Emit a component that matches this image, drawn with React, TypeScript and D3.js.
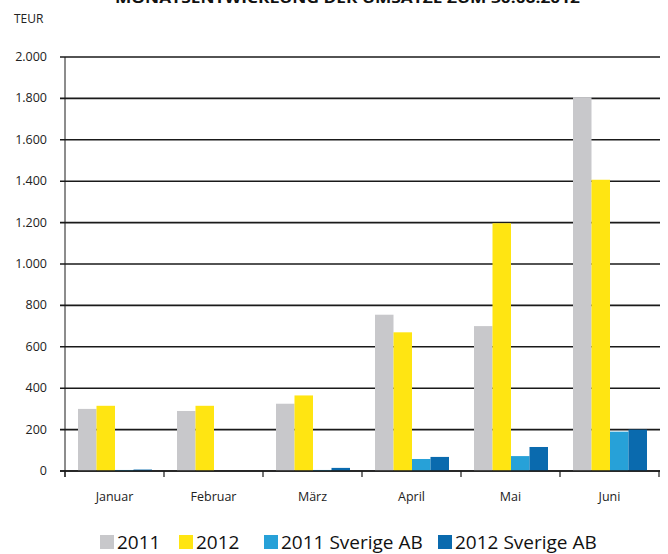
import React, { useEffect, useRef } from 'react';
import * as d3 from 'd3';

const months = ['Januar', 'Februar', 'März', 'April', 'Mai', 'Juni'];
const series = ['2011', '2012', '2011 Sverige AB', '2012 Sverige AB'];
const colors = ['#c8c8cb', '#ffe512', '#27a1d8', '#0a6aae'];
const values2011 = [300, 290, 325, 755, 700, 1806];
const values2012 = [315, 315, 365, 670, 1197, 1407];
const valuesSe2011 = [5, 0, 5, 58, 72, 190];
const valuesSe2012 = [7, 0, 15, 68, 116, 200];
const yTicks = [0, 200, 400, 600, 800, 1000, 1200, 1400, 1600, 1800, 2000];

const W = 668;
const H = 554;

function App() {
    const ref = useRef<SVGSVGElement>(null);

    useEffect(() => {
        const svg = d3.select(ref.current);
        svg.selectAll('*').remove();
        const font = '"Open Sans", sans-serif';
        const allValues = [values2011, values2012, valuesSe2011, valuesSe2012];

        const x = d3.scaleBand().domain(months).range([65, 659]);
        const y = d3.scaleLinear().domain([0, 2000]).range([471, 57]);
        const inner = d3.scaleBand().domain(series).range([13, 87]);

        // Title (cut off at the top, as in the original)
        svg.append('text')
            .attr('x', 115).attr('y', 3)
            .attr('textLength', 465).attr('lengthAdjust', 'spacingAndGlyphs')
            .style('font-family', font).style('font-weight', 'bold').style('font-size', '15px')
            .attr('fill', '#111')
            .text('MONATSENTWICKLUNG DER UMSÄTZE ZUM 30.06.2012');

        svg.append('text')
            .attr('x', 14).attr('y', 23)
            .style('font-family', font).style('font-size', '12px').attr('fill', '#222')
            .text('TEUR');

        // Gridlines and y labels
        const grid = svg.append('g');
        yTicks.forEach(t => {
            grid.append('line')
                .attr('x1', 60).attr('x2', 660)
                .attr('y1', y(t)).attr('y2', y(t))
                .attr('stroke', '#1a1a1a').attr('stroke-width', 1.6);
            grid.append('text')
                .attr('x', 47).attr('y', y(t) + 4)
                .attr('text-anchor', 'end')
                .style('font-family', font).style('font-size', '12.5px').attr('fill', '#222')
                .text(d3.format(',')(t).replace(/,/g, '.'));
        });

        // y axis line
        grid.append('line')
            .attr('x1', 65).attr('x2', 65)
            .attr('y1', y(2000)).attr('y2', y(0) + 6)
            .attr('stroke', '#1a1a1a').attr('stroke-width', 1);

        // Ticks below the baseline
        const edges = months.map(m => x(m) as number).concat([x.range()[1]]);
        edges.forEach(e => {
            grid.append('line')
                .attr('x1', e).attr('x2', e)
                .attr('y1', y(0)).attr('y2', y(0) + 6)
                .attr('stroke', '#1a1a1a').attr('stroke-width', 1.2);
        });

        // Bars
        series.forEach((s, si) => {
            svg.append('g')
                .selectAll('rect')
                .data(allValues[si])
                .enter()
                .append('rect')
                .attr('x', (_, i) => (x(months[i]) as number) + (inner(s) as number))
                .attr('width', inner.bandwidth())
                .attr('y', d => y(d))
                .attr('height', d => y(0) - y(d))
                .attr('fill', colors[si]);
        });

        // Redraw baseline above bars
        svg.append('line')
            .attr('x1', 60).attr('x2', 660)
            .attr('y1', y(0)).attr('y2', y(0))
            .attr('stroke', '#1a1a1a').attr('stroke-width', 1.6);

        // Month labels
        months.forEach(m => {
            svg.append('text')
                .attr('x', (x(m) as number) + x.bandwidth() / 2)
                .attr('y', 501)
                .attr('text-anchor', 'middle')
                .style('font-family', font).style('font-size', '12.5px').attr('fill', '#222')
                .text(m);
        });

        // Legend
        const legendX = [100, 179, 264, 438];
        series.forEach((s, si) => {
            const g = svg.append('g').attr('transform', `translate(${legendX[si]}, 535)`);
            g.append('rect').attr('x', 0).attr('y', 0).attr('width', 14).attr('height', 14).attr('fill', colors[si]);
            g.append('text')
                .attr('x', 17).attr('y', 14)
                .style('font-family', font).style('font-size', '19px').attr('fill', '#111')
                .text(s);
        });
    });

    return (
        <svg ref={ref} width={W} height={H} style={{ position: 'absolute', left: 0, top: 0, background: '#fff' }} />
    );
}

export default App;
